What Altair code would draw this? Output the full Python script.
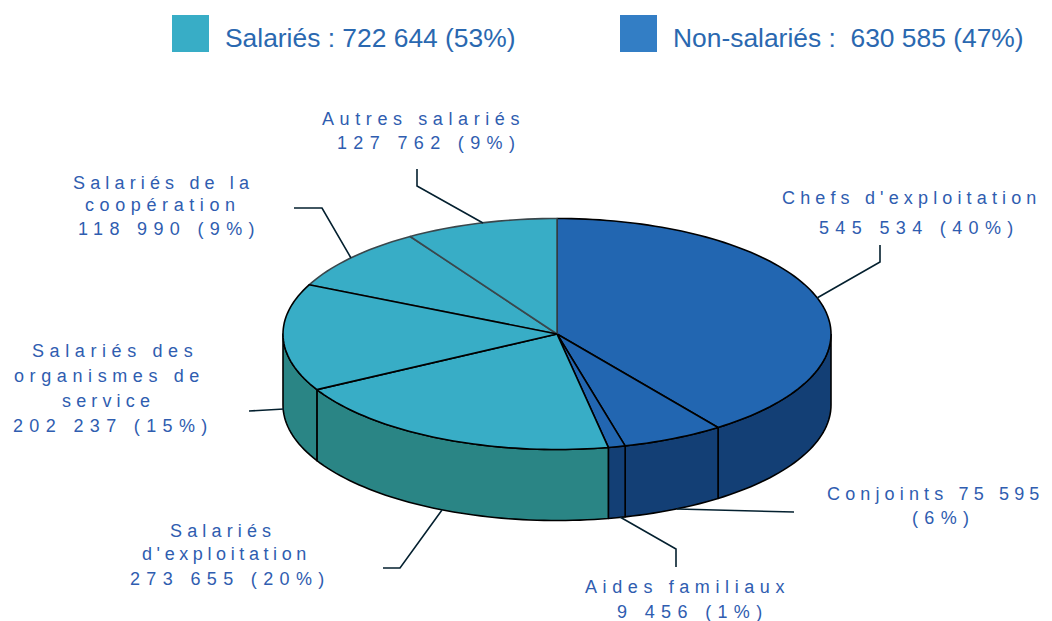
import math
import altair as alt
import pandas as pd

# Data
names = ["Chefs d'exploitation", "Conjoints", "Aides familiaux", "Salariés d'exploitation",
         "Salariés des organismes de service", "Salariés de la coopération", "Autres salariés"]
shares = [40, 6, 1, 20, 15, 9, 9]
groups = ["non", "non", "non", "sal", "sal", "sal", "sal"]

legend_labels = ["Salariés : 722 644 (53%)", "Non-salariés :  630 585 (47%)"]

lines_tight = [("d'exploitation", 142, 560)]
lines_normal = [("Chefs d'exploitation", 782, 204), ("Salariés de la", 73, 189),
                ("service", 62, 407), ("Salariés", 170, 537), ("Conjoints 75 595", 827, 500)]
lines_wide = [("Autres salariés", 322, 125), ("coopération", 85, 211),
              ("Salariés des", 32, 357), ("organismes de", 14, 382),
              ("Aides familiaux", 585, 593)]
number_lines = [("127 762 (9%)", 337, 149), ("545 534 (40%)", 819, 234),
                ("118 990 (9%)", 78, 235), ("202 237 (15%)", 13, 432),
                ("273 655 (20%)", 130, 585), ("9 456 (1%)", 617, 618), ("(6%)", 912, 524)]

leaders = [[(880, 245), (880, 262), (817, 298)],
           [(417, 169), (417, 186), (483, 223)],
           [(294, 208), (322, 208), (351, 258)],
           [(249, 411), (284, 409)],
           [(383, 568), (400, 568), (442, 510)],
           [(676, 567), (676, 549), (620, 517)],
           [(794, 512), (677, 509)]]

# Layout
CX, CY, RX, RY, DEPTH = 557, 334, 274, 115.5, 71
TOP = {"non": "#2266B1", "sal": "#38ADC6"}
WALL = {"non": "#133F75", "sal": "#2A8585"}
EDGE = ["#000000", "#000000", "#000000", "#000000", "#000000", "#3A474C", "#3A474C"]
DRAW_ORDER = [0, 1, 2, 3, 5, 6, 4]


def pt(t, dy=0):
    r = math.radians(t)
    return CX + RX * math.sin(r), CY - RY * math.cos(r) + dy


def arc(a, b):
    n = max(2, int(abs(b - a) / 1.5) + 1)
    return [a + (b - a) * i / (n - 1) for i in range(n)]


total = sum(shares)
cum = 0
spans = []
for nm, v, g in zip(names, shares, groups):
    spans.append((nm, 360 * cum / total, 360 * (cum + v) / total, g))
    cum += v

top_rows, wall_rows = [], []
for i in DRAW_ORDER:
    nm, a, b, g = spans[i]
    poly = [(CX, CY)] + [pt(t) for t in arc(a, b)] + [(CX, CY)]
    for k, (x, y) in enumerate(poly):
        top_rows.append(dict(s=nm, k=k, x=x, y=y, f=TOP[g], c=EDGE[i]))
for i, (nm, a, b, g) in enumerate(spans):
    lo, hi = max(a, 90), min(b, 270)
    if hi > lo:
        ts = arc(lo, hi)
        poly = [pt(t) for t in ts] + [pt(t, DEPTH) for t in reversed(ts)] + [pt(ts[0])]
        for k, (x, y) in enumerate(poly):
            wall_rows.append(dict(s=nm, k=k, x=x, y=y, f=WALL[g], c="#000000"))

xs = alt.Scale(domain=[8, 1044], range=[0, 1036], nice=False, zero=False)
ys = alt.Scale(domain=[8, 621], range=[0, 613], nice=False, zero=False)
X = alt.X("x:Q", scale=xs, axis=None)
Y = alt.Y("y:Q", scale=ys, axis=None)


def polys(rows):
    return alt.Chart(pd.DataFrame(rows)).mark_line(strokeWidth=1.6, strokeJoin="round").encode(
        x=X, y=Y, detail="s:N", order="k:Q",
        fill=alt.Fill("f:N", scale=None), stroke=alt.Stroke("c:N", scale=None))


wall = polys(wall_rows)
top = polys(top_rows)

leader_rows = [dict(l=i, k=k, x=p[0], y=p[1]) for i, ln in enumerate(leaders) for k, p in enumerate(ln)]
lead = alt.Chart(pd.DataFrame(leader_rows)).mark_line(color="#04202F", strokeWidth=1.6).encode(
    x=X, y=Y, detail="l:N", order="k:Q")


def text_layer(lines, size, color):
    df = pd.DataFrame(lines, columns=["t", "x", "y"])
    return alt.Chart(df).mark_text(align="left", baseline="alphabetic", font="Liberation Sans",
                                   fontSize=size, color=color).encode(x=X, y=Y, text="t:N")


LABEL = "#2F5DB0"
sw = pd.DataFrame({"x": [172, 620], "x2": [209, 657], "y": [15, 15], "y2": [52, 52],
                   "f": ["#38ADC6", "#337EC5"]})
swatches = alt.Chart(sw).mark_rect().encode(
    x=X, x2="x2:Q", y=Y, y2="y2:Q", fill=alt.Fill("f:N", scale=None))

chart = alt.layer(
    wall, top, lead,
    text_layer(lines_tight, 18, LABEL),
    text_layer(lines_normal, 18, LABEL),
    text_layer(lines_wide, 18, LABEL),
    text_layer(number_lines, 18, LABEL),
    text_layer([(legend_labels[0], 225, 47), (legend_labels[1], 673, 47)], 26.4, "#2A68B0"),
    swatches,
).properties(
    width=1036, height=613, padding=0, autosize=alt.AutoSizeParams(type="none"),
    background="#FFFFFF",
).configure_view(stroke=None)

css = ("html,body{overflow:hidden}svg text{white-space:pre}"
       ".layer_3_marks text{letter-spacing:4.6px}"
       ".layer_4_marks text{letter-spacing:5.15px}"
       ".layer_5_marks text{letter-spacing:5.6px}"
       ".layer_6_marks text{letter-spacing:6.35px}")
chart.save("out.html", embed_options={"renderer": "svg", "actions": False, "defaultStyle": css})
